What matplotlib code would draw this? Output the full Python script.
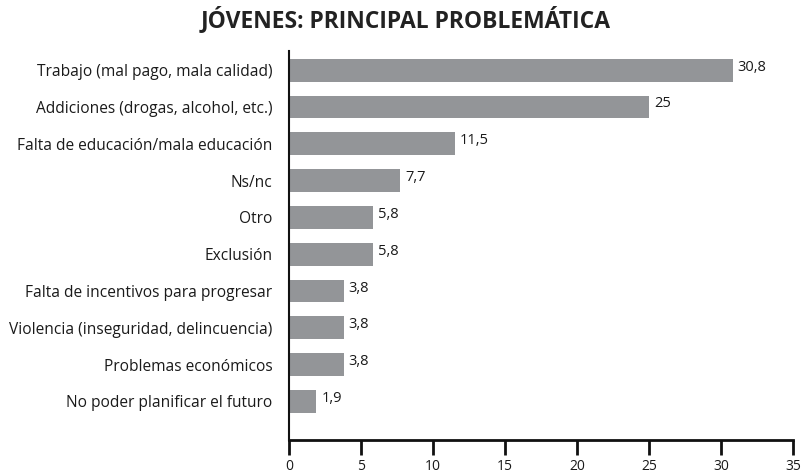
import matplotlib
matplotlib.use("Agg")
import matplotlib.pyplot as plt

categories = [
    "Trabajo (mal pago, mala calidad)",
    "Addiciones (drogas, alcohol, etc.)",
    "Falta de educación/mala educación",
    "Ns/nc",
    "Otro",
    "Exclusión",
    "Falta de incentivos para progresar",
    "Violencia (inseguridad, delincuencia)",
    "Problemas económicos",
    "No poder planificar el futuro",
]
values = [30.8, 25, 11.5, 7.7, 5.8, 5.8, 3.8, 3.8, 3.8, 1.9]
value_labels = ["30,8", "25", "11,5", "7,7", "5,8", "5,8", "3,8", "3,8", "3,8", "1,9"]
xticks = [0, 5, 10, 15, 20, 25, 30, 35]
title = "JÓVENES: PRINCIPAL PROBLEMÁTICA"

plt.rcParams['font.family'] = ['Open Sans', 'DejaVu Sans']

W, H = 805, 474
fig = plt.figure(figsize=(W / 100, H / 100), dpi=100)
left, right, top, bottom = 289, 793, 51, 440
ax = fig.add_axes([left / W, 1 - bottom / H, (right - left) / W, (bottom - top) / H])

n = len(categories)
ypos = list(range(n - 1, -1, -1))
ax.barh(ypos, values, height=0.62, color="#939598", zorder=2)
for y, v, lab in zip(ypos, values, value_labels):
    ax.text(v + 0.35, y + 0.08, lab, va="center", ha="left", fontsize=10.5, color="#1a1a1a")

ax.set_xlim(0, 35)
ax.set_ylim(-1.05, n - 1 + 0.52)
ax.set_yticks(ypos)
ax.set_yticklabels(categories, fontsize=11.2, color="#1a1a1a")
ax.tick_params(axis="y", length=0, pad=12)
ax.set_xticks(xticks)
ax.set_xticklabels([str(t) for t in xticks], fontsize=10, color="#1a1a1a")
ax.tick_params(axis="x", length=11, width=2, direction="out", pad=2.5, color="#111111")

for s in ["top", "right"]:
    ax.spines[s].set_visible(False)
ax.spines["left"].set_linewidth(1.5)
ax.spines["bottom"].set_linewidth(2)
ax.spines["left"].set_color("#111111")
ax.spines["bottom"].set_color("#111111")

fig.text(406 / W, 1 - 20 / H, title, ha="center", va="center", fontsize=16.5,
         fontweight="bold", color="#222222")

fig.savefig("out.png", dpi=100)
